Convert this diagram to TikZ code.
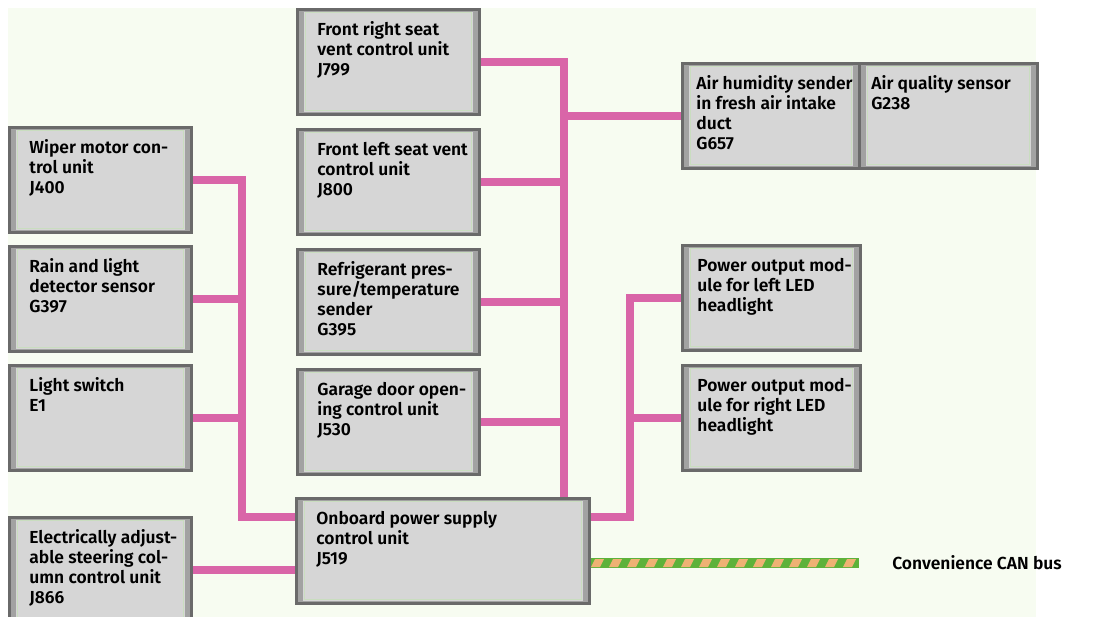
\documentclass[tikz,border=0pt]{standalone}
\usepackage{fontspec}
\setmainfont{Fira Sans}[BoldFont={Fira Sans SemiBold}]
\usepackage{tikz}
\usetikzlibrary{positioning}
\definecolor{bgcol}{HTML}{F7FCF1}
\definecolor{boxfill}{HTML}{D6D6D6}
\definecolor{boxedge}{HTML}{6A6A6A}
\definecolor{boxband}{HTML}{A2A2A2}
\definecolor{boxlight}{HTML}{C9DDBF}
\definecolor{buspink}{HTML}{D965A8}
\definecolor{cangreen}{HTML}{5DB23A}
\definecolor{canorange}{HTML}{EFB274}
\newcommand{\ecutext}[2][3.55cm]{\makebox[#1][l]{\begin{tabular}[t]{@{}l@{}}#2\end{tabular}}}
\tikzset{
ecu/.style={draw=boxedge,line width=2pt,fill=boxfill,anchor=north west,
  inner xsep=0.5cm,inner ysep=0.16cm,text height=0.5cm,text depth=1.805cm,
  font=\fontsize{12.4pt}{14.2pt}\selectfont\bfseries,
  path picture={
    \draw[boxband,line width=0.12cm] (path picture bounding box.south west) rectangle (path picture bounding box.north east);
    \fill[boxband] (path picture bounding box.south west) rectangle ([xshift=0.17cm]path picture bounding box.north west);
    \fill[boxband] (path picture bounding box.south east) rectangle ([xshift=-0.17cm]path picture bounding box.north east);
    \draw[boxlight,line width=0.6pt] ([shift={(0.19cm,-0.08cm)}]path picture bounding box.north west) rectangle ([shift={(-0.19cm,0.1cm)}]path picture bounding box.south east);}},
bus/.style={draw=buspink,line width=0.18cm},
canlabel/.style={font=\fontsize{12.4pt}{14.2pt}\selectfont\bfseries,inner sep=0pt}}

\begin{document}
\begin{tikzpicture}[x=0.025cm,y=-0.025cm]

\useasboundingbox (0,0) rectangle (1112,617);
\fill[bgcol] (8,8) rectangle (1036,617);

% left column
\node[ecu] (j400) at (8,126) {\ecutext{Wiper motor con-\\trol unit\\J400}};
\node[ecu] (g397) at (8,245) {\ecutext{Rain and light\\detector sensor\\G397}};
\node[ecu] (e1)   at (8,364) {\ecutext{Light switch\\E1}};
\node[ecu] (j866) at (8,516) {\ecutext{Electrically adjust-\\able steering col-\\umn control unit\\J866}};

% middle column
\node[ecu] (j799) at (296,8)   {\ecutext{Front right seat\\vent control unit\\J799}};
\node[ecu] (j800) at (296,128) {\ecutext{Front left seat vent\\control unit\\J800}};
\node[ecu] (g395) at (296,248) {\ecutext{Refrigerant pres-\\sure/temperature\\sender\\G395}};
\node[ecu] (j530) at (296,368) {\ecutext{Garage door open-\\ing control unit\\J530}};
\node[ecu] (j519) at (295,497) {\ecutext[6.325cm]{Onboard power supply\\control unit\\J519}};

% right column
\node[ecu,inner xsep=0.35cm] (g657) at (681,62) {\ecutext[3.725cm]{Air humidity sender\\in fresh air intake\\duct\\G657}};
\node[ecu,inner xsep=0.3cm]  (g238) at (858,62) {\ecutext[3.85cm]{Air quality sensor\\G238}};
\node[ecu,inner xsep=0.375cm] (ledl) at (681,244) {\ecutext[3.7cm]{Power output mod-\\ule for left LED\\headlight}};
\node[ecu,inner xsep=0.375cm] (ledr) at (681,364) {\ecutext[3.7cm]{Power output mod-\\ule for right LED\\headlight}};

% bus lines
\coordinate (lb) at (242,517);
\coordinate (cb) at (564,0);
\coordinate (hb) at (630,517);

\draw[bus] (j400.east) -| (lb) -- (lb -| j519.west);
\draw[bus] (g397.east) -- (g397.east -| lb);
\draw[bus] (e1.east) -- (e1.east -| lb);
\draw[bus] (j866.east) -- (j866.east -| j519.west);

\draw[bus] (j799.east) -| (j519.north -| cb);
\draw[bus] (j800.east) -- (j800.east -| cb);
\draw[bus] (g395.east) -- (g395.east -| cb);
\draw[bus] (j530.east) -- (j530.east -| cb);
\draw[bus] (g657.west) -- (g657.west -| cb);

\draw[bus] (ledl.west) -| (hb) -- (hb -| j519.east);
\draw[bus] (ledr.west) -- (ledr.west -| hb);

% convenience CAN bus
\coordinate (canend) at (859,563);
\draw[cangreen,line width=0.25cm] (j519.east |- canend) -- (canend);
\foreach \i in {0,...,14}
  \fill[canorange] ({591+18*\i},567) -- ++(4,-8) -- ++(9,0) -- ++(-4,8) -- cycle;
\node[canlabel,anchor=west] (can) at (892,563) {Convenience CAN bus};

\end{tikzpicture}
\end{document}
